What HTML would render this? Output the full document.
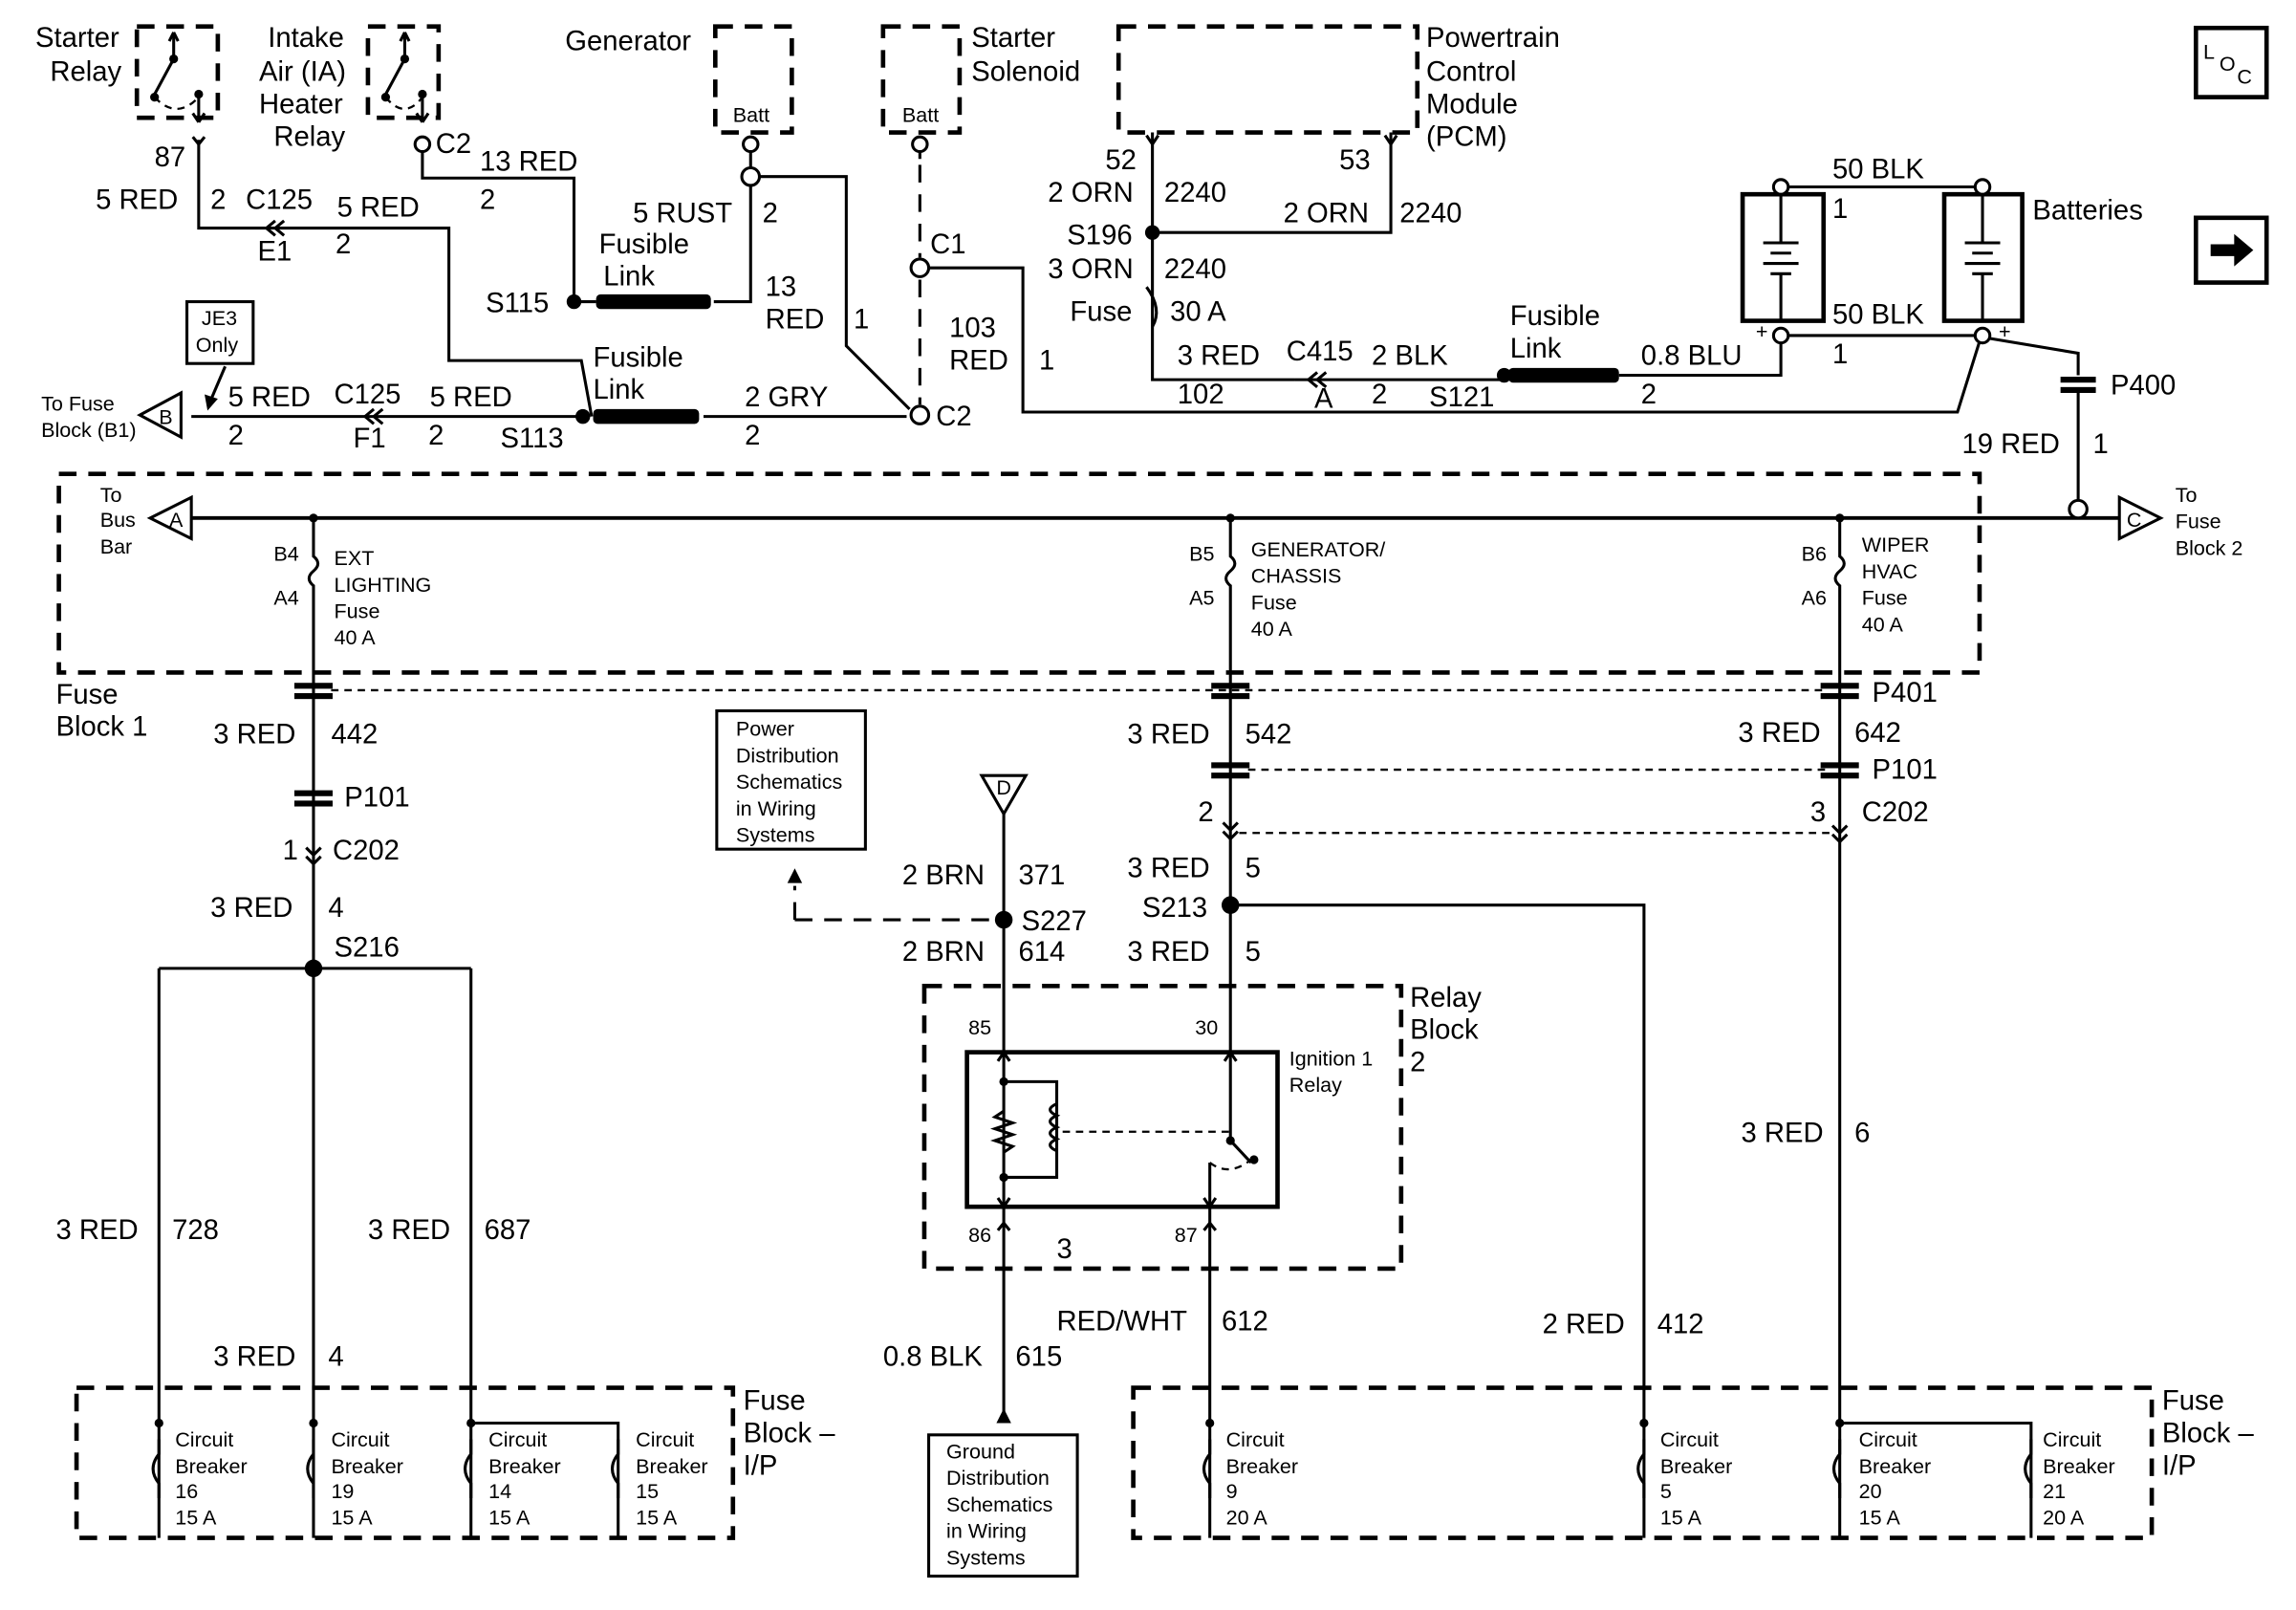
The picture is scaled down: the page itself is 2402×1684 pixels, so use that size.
<!DOCTYPE html>
<html><head><meta charset="utf-8"><style>
html,body{margin:0;padding:0;background:#fff}
svg{display:block}
text{font-family:"Liberation Sans",Arial,sans-serif;fill:#000}
.l{font-size:19px}
.s{font-size:14px}
.w{stroke:#000;stroke-width:2;fill:none}
.d{stroke:#000;stroke-width:3;fill:none;stroke-dasharray:12 8}
.dt{stroke:#000;stroke-width:1.5;fill:none;stroke-dasharray:5 4}
</style></head><body>
<svg width="2402" height="1684" viewBox="0 0 1560 1094" preserveAspectRatio="none" xmlns="http://www.w3.org/2000/svg">
<rect class="d" x="93" y="18" width="55" height="62"/>
<rect class="d" x="250" y="18" width="48" height="62"/>
<rect class="d" x="486" y="18" width="52" height="72"/>
<rect class="d" x="600" y="18" width="52" height="72"/>
<rect class="d" x="760" y="18" width="203" height="72"/>
<g class="w">
<path d="M118 22 V40 L104 66"/><path d="M118 22 l-3 6 M118 22 l3 6"/><path d="M135 65 V83 M135 83 l-4 -6 M135 83 l4 -6"/>
<path d="M275 22 V40 L261 66"/><path d="M275 22 l-3 6 M275 22 l3 6"/><path d="M287 65 V83 M287 83 l-4 -6 M287 83 l4 -6"/>
</g>
<path class="dt" d="M105 66 Q120 82 135 66"/><path class="dt" d="M262 66 Q275 82 287 66"/>
<circle cx="105" cy="66" r="3"/><circle cx="135" cy="64" r="3"/><circle cx="118" cy="40" r="3"/>
<circle cx="262" cy="66" r="3"/><circle cx="287" cy="64" r="3"/><circle cx="275" cy="40" r="3"/>
<text class="l" x="24" y="32">Starter</text><text class="l" x="34" y="55">Relay</text>
<text class="l" x="182" y="32">Intake</text><text class="l" x="176" y="55">Air (IA)</text><text class="l" x="176" y="77">Heater</text><text class="l" x="186" y="99">Relay</text>
<text class="l" x="384" y="34">Generator</text>
<text class="s" x="498" y="83">Batt</text><text class="s" x="613" y="83">Batt</text>
<text class="l" x="660" y="32">Starter</text><text class="l" x="660" y="55">Solenoid</text>
<text class="l" x="969" y="32">Powertrain</text><text class="l" x="969" y="55">Control</text><text class="l" x="969" y="77">Module</text><text class="l" x="969" y="99">(PCM)</text>
<g class="w">
<path d="M135 95 V155 H180"/><path d="M131 93 L135 98 L139 93"/>
<path d="M180 155 H305 V245 H395 L402 283"/>
<path d="M187 150 l-6 5 l6 5 M193 150 l-6 5 l6 5"/>
<path d="M287 103 V121 H390 V205"/>
<path d="M390 205 H405"/><path d="M485 205 H510 V126"/><path d="M510 102 V115"/>
<path d="M516 120 H575 V235 L618 278"/>
<path d="M395 283 H130"/><path d="M478 283 H616"/>
<path d="M254 278 l-6 5 l6 5 M260 278 l-6 5 l6 5"/>
<path d="M153 249 L144 270"/>
<path d="M625 102 V108"/>
<path d="M630 182 H695 V280 H1330 L1345 232"/>
<path d="M783 90 V258 H880"/><path d="M945 90 V158 H783"/>
<path d="M880 258 H1020"/><path d="M1100 255 H1210 V232"/>
<path d="M1215 127 H1342"/><path d="M1215 228 H1342"/>
<path d="M1352 230 L1412 240 V255 M1412 266 V340"/>
</g>
<polygon points="139,268 148,271 141,279"/>
<path class="w" d="M779 92 L783 98 L787 92 M941 92 L945 98 L949 92"/>
<path class="w" d="M895 253 l-6 5 l6 5 M901 253 l-6 5 l6 5"/>
<path d="M779 195 Q790 210 783 222" class="w"/>
<path class="d" d="M625 112 V175 M625 190 V275" style="stroke-width:2"/>
<circle cx="287" cy="98" r="5" fill="#fff" stroke="#000" stroke-width="2"/>
<circle cx="510" cy="98" r="5" fill="#fff" stroke="#000" stroke-width="2"/>
<circle cx="510" cy="120" r="6" fill="#fff" stroke="#000" stroke-width="2"/>
<circle cx="625" cy="98" r="5" fill="#fff" stroke="#000" stroke-width="2"/>
<circle cx="625" cy="182" r="6" fill="#fff" stroke="#000" stroke-width="2"/>
<circle cx="625" cy="282" r="6" fill="#fff" stroke="#000" stroke-width="2"/>
<circle cx="390" cy="205" r="5"/><circle cx="396" cy="283" r="5"/>
<circle cx="783" cy="158" r="5"/><circle cx="1022" cy="255" r="5"/>
<rect x="405" y="200" width="78" height="10" rx="3"/><rect x="403" y="278" width="72" height="10" rx="3"/><rect x="1025" y="250" width="75" height="10" rx="3"/>
<text class="l" x="65" y="142">5 RED</text><text class="l" x="143" y="142">2</text><text class="l" x="167" y="142">C125</text><text class="l" x="229" y="147">5 RED</text>
<text class="l" x="105" y="113">87</text><text class="l" x="175" y="177">E1</text><text class="l" x="228" y="172">2</text>
<text class="l" x="296" y="104">C2</text><text class="l" x="326" y="116">13 RED</text><text class="l" x="326" y="142">2</text>
<text class="l" x="430" y="151">5 RUST</text><text class="l" x="518" y="151">2</text><text class="l" x="407" y="172">Fusible</text><text class="l" x="410" y="194">Link</text>
<text class="l" x="330" y="212">S115</text><text class="l" x="520" y="201">13</text><text class="l" x="520" y="223">RED</text><text class="l" x="580" y="223">1</text>
<rect x="127" y="205" width="45" height="42" fill="none" stroke="#000" stroke-width="2"/>
<text class="s" x="137" y="221">JE3</text><text class="s" x="133" y="239">Only</text>
<text class="l" x="403" y="249">Fusible</text><text class="l" x="403" y="271">Link</text>
<text class="l" x="155" y="276">5 RED</text><text class="l" x="227" y="274">C125</text><text class="l" x="292" y="276">5 RED</text><text class="l" x="506" y="276">2 GRY</text>
<text class="l" x="155" y="302">2</text><text class="l" x="240" y="304">F1</text><text class="l" x="291" y="302">2</text><text class="l" x="340" y="304">S113</text><text class="l" x="506" y="302">2</text>
<polygon points="95,282 123,267 123,297" fill="#fff" stroke="#000" stroke-width="2"/><text class="s" x="108" y="288">B</text>
<text class="s" x="28" y="279">To Fuse</text><text class="s" x="28" y="297">Block (B1)</text>
<text class="l" x="632" y="172">C1</text><text class="l" x="636" y="289">C2</text>
<text class="l" x="645" y="229">103</text><text class="l" x="645" y="251">RED</text><text class="l" x="706" y="251">1</text>
<text class="l" x="751" y="115">52</text><text class="l" x="910" y="115">53</text>
<text class="l" x="712" y="137">2 ORN</text><text class="l" x="791" y="137">2240</text><text class="l" x="872" y="151">2 ORN</text><text class="l" x="951" y="151">2240</text>
<text class="l" x="725" y="166">S196</text><text class="l" x="712" y="189">3 ORN</text><text class="l" x="791" y="189">2240</text>
<text class="l" x="727" y="218">Fuse</text><text class="l" x="795" y="218">30 A</text>
<text class="l" x="800" y="248">3 RED</text><text class="l" x="874" y="245">C415</text><text class="l" x="932" y="248">2 BLK</text>
<text class="l" x="800" y="274">102</text><text class="l" x="893" y="277">A</text><text class="l" x="932" y="274">2</text><text class="l" x="971" y="276">S121</text>
<text class="l" x="1026" y="221">Fusible</text><text class="l" x="1026" y="243">Link</text>
<text class="l" x="1115" y="248">0.8 BLU</text><text class="l" x="1115" y="274">2</text>
<rect x="1184" y="132" width="55" height="86" fill="none" stroke="#000" stroke-width="3"/>
<rect x="1321" y="132" width="53" height="86" fill="none" stroke="#000" stroke-width="3"/>
<g class="w"><path d="M1210 132 V165 M1198 165 H1222 M1203 172 H1217 M1198 179 H1222 M1203 186 H1217 M1210 186 V218"/>
<path d="M1347 132 V165 M1335 165 H1359 M1340 172 H1354 M1335 179 H1359 M1340 186 H1354 M1347 186 V218"/></g>
<circle cx="1210" cy="127" r="5" fill="#fff" stroke="#000" stroke-width="2"/><circle cx="1347" cy="127" r="5" fill="#fff" stroke="#000" stroke-width="2"/>
<circle cx="1210" cy="228" r="5" fill="#fff" stroke="#000" stroke-width="2"/><circle cx="1347" cy="228" r="5" fill="#fff" stroke="#000" stroke-width="2"/>
<text class="l" x="1245" y="121">50 BLK</text><text class="l" x="1245" y="148">1</text><text class="l" x="1381" y="149">Batteries</text>
<text class="l" x="1245" y="220">50 BLK</text><text class="l" x="1245" y="247">1</text><text class="s" x="1193" y="230">+</text><text class="s" x="1358" y="230">+</text>
<rect x="1400" y="256" width="24" height="4"/><rect x="1400" y="263" width="24" height="4"/>
<text class="l" x="1434" y="268">P400</text><text class="l" x="1333" y="308">19 RED</text><text class="l" x="1422" y="308">1</text>
<rect x="1492" y="19" width="48" height="47" fill="none" stroke="#000" stroke-width="3"/>
<text class="s" x="1497" y="40">L</text><text class="s" x="1508" y="48">O</text><text class="s" x="1520" y="57">C</text>
<rect x="1492" y="148" width="48" height="44" fill="none" stroke="#000" stroke-width="3"/>
<polygon points="1502,166 1518,166 1518,159 1531,170 1518,181 1518,174 1502,174"/>
<rect class="d" x="40" y="322" width="1305" height="135"/>
<path class="w" d="M130 352 H1440" style="stroke-width:2.5"/>
<polygon points="102,352 130,338 130,366" fill="#fff" stroke="#000" stroke-width="2"/><text class="s" x="115" y="358">A</text>
<polygon points="1468,352 1440,338 1440,366" fill="#fff" stroke="#000" stroke-width="2"/><text class="s" x="1445" y="358">C</text>
<circle cx="1412" cy="346" r="6" fill="#fff" stroke="#000" stroke-width="2"/>
<text class="s" x="68" y="341">To</text><text class="s" x="68" y="358">Bus</text><text class="s" x="68" y="376">Bar</text>
<text class="s" x="1478" y="341">To</text><text class="s" x="1478" y="359">Fuse</text><text class="s" x="1478" y="377">Block 2</text>
<g class="w">
<path d="M213 352 V378 q6 5 0 10 q-6 5 0 10 V1045"/>
<path d="M836 352 V378 q6 5 0 10 q-6 5 0 10 V715"/>
<path d="M1250 352 V378 q6 5 0 10 q-6 5 0 10 V1045"/>
<path d="M108 658 H320 M108 658 V1045 M320 658 V1045 M320 967 H420 V1045"/>
<path d="M836 615 H1117 V1045"/>
<path d="M1250 967 H1380 V1045"/>
<path d="M682 545 V715 M682 820 V965"/>
<path d="M822 820 V1045"/>
</g>
<circle cx="213" cy="352" r="3"/><circle cx="836" cy="352" r="3"/><circle cx="1250" cy="352" r="3"/>
<text class="s" x="186" y="381">B4</text><text class="s" x="186" y="411">A4</text>
<text class="s" x="227" y="384">EXT</text><text class="s" x="227" y="402">LIGHTING</text><text class="s" x="227" y="420">Fuse</text><text class="s" x="227" y="438">40 A</text>
<text class="s" x="808" y="381">B5</text><text class="s" x="808" y="411">A5</text>
<text class="s" x="850" y="378">GENERATOR/</text><text class="s" x="850" y="396">CHASSIS</text><text class="s" x="850" y="414">Fuse</text><text class="s" x="850" y="432">40 A</text>
<text class="s" x="1224" y="381">B6</text><text class="s" x="1224" y="411">A6</text>
<text class="s" x="1265" y="375">WIPER</text><text class="s" x="1265" y="393">HVAC</text><text class="s" x="1265" y="411">Fuse</text><text class="s" x="1265" y="429">40 A</text>
<text class="l" x="38" y="478">Fuse</text><text class="l" x="38" y="500">Block 1</text>
<path class="dt" d="M225 469 H1240 M848 523 H1240 M842 566 H1245"/>
<g>
<rect x="200" y="464" width="26" height="4"/><rect x="200" y="471" width="26" height="4"/>
<rect x="823" y="464" width="26" height="4"/><rect x="823" y="471" width="26" height="4"/>
<rect x="1237" y="464" width="26" height="4"/><rect x="1237" y="471" width="26" height="4"/>
<rect x="200" y="537" width="26" height="4"/><rect x="200" y="544" width="26" height="4"/>
<rect x="823" y="518" width="26" height="4"/><rect x="823" y="525" width="26" height="4"/>
<rect x="1237" y="518" width="26" height="4"/><rect x="1237" y="525" width="26" height="4"/>
</g>
<path class="w" d="M208 576 l5 5 l5 -5 M208 582 l5 5 l5 -5 M831 559 l5 5 l5 -5 M831 565 l5 5 l5 -5 M1245 561 l5 5 l5 -5 M1245 567 l5 5 l5 -5"/>
<circle cx="213" cy="658" r="6"/><circle cx="836" cy="615" r="6"/><circle cx="682" cy="625" r="6"/>
<text class="l" x="1272" y="477">P401</text>
<text class="l" x="145" y="505">3 RED</text><text class="l" x="225" y="505">442</text>
<text class="l" x="766" y="505">3 RED</text><text class="l" x="846" y="505">542</text>
<text class="l" x="1181" y="504">3 RED</text><text class="l" x="1260" y="504">642</text>
<text class="l" x="234" y="548">P101</text><text class="l" x="1272" y="529">P101</text>
<text class="l" x="192" y="584">1</text><text class="l" x="226" y="584">C202</text>
<text class="l" x="814" y="558">2</text><text class="l" x="1230" y="558">3</text><text class="l" x="1265" y="558">C202</text>
<text class="l" x="143" y="623">3 RED</text><text class="l" x="223" y="623">4</text><text class="l" x="227" y="650">S216</text>
<text class="l" x="766" y="596">3 RED</text><text class="l" x="846" y="596">5</text><text class="l" x="776" y="623">S213</text>
<text class="l" x="766" y="653">3 RED</text><text class="l" x="846" y="653">5</text>
<text class="l" x="1183" y="776">3 RED</text><text class="l" x="1260" y="776">6</text>
<rect x="487" y="483" width="101" height="94" fill="none" stroke="#000" stroke-width="2"/>
<text class="s" x="500" y="500">Power</text><text class="s" x="500" y="518">Distribution</text><text class="s" x="500" y="536">Schematics</text><text class="s" x="500" y="554">in Wiring</text><text class="s" x="500" y="572">Systems</text>
<path class="d" d="M540 625 H676 M540 625 V602" style="stroke-width:2"/>
<polygon points="535,600 540,590 545,600"/>
<polygon points="667,527 697,527 682,553" fill="#fff" stroke="#000" stroke-width="2"/><text class="s" x="677" y="540">D</text>
<text class="l" x="613" y="601">2 BRN</text><text class="l" x="692" y="601">371</text><text class="l" x="694" y="632">S227</text>
<text class="l" x="613" y="653">2 BRN</text><text class="l" x="692" y="653">614</text>
<rect class="d" x="628" y="670" width="324" height="192"/>
<rect x="657" y="715" width="211" height="105" fill="none" stroke="#000" stroke-width="3"/>
<text class="l" x="958" y="684">Relay</text><text class="l" x="958" y="706">Block</text><text class="l" x="958" y="728">2</text>
<text class="s" x="658" y="703">85</text><text class="s" x="812" y="703">30</text><text class="s" x="658" y="844">86</text><text class="s" x="798" y="844">87</text>
<text class="s" x="876" y="724">Ignition 1</text><text class="s" x="876" y="742">Relay</text>
<g class="w">
<path d="M682 715 V820 M682 735 H718 V800 H682"/>
<path d="M682 755 l-6 4 l12 4 l-12 4 l12 4 l-12 4 l12 4 l-6 4"/>
<path d="M718 750 q-9 4 0 8 q-9 4 0 8 q-9 4 0 8 q-9 4 0 8"/>
<path d="M836 715 V775 L850 790"/>
<path d="M822 820 V790"/>
<path d="M678 721 l4 -6 l4 6 M678 814 l4 6 l4 -6 M832 721 l4 -6 l4 6 M818 814 l4 6 l4 -6"/>
<path d="M678 836 l4 -5 l4 5 M818 836 l4 -5 l4 5"/>
</g>
<path class="dt" d="M722 769 H838"/><path class="dt" d="M822 790 Q835 800 850 788"/>
<circle cx="682" cy="735" r="3"/><circle cx="682" cy="800" r="3"/><circle cx="836" cy="775" r="3"/><circle cx="852" cy="788" r="3"/>
<text class="l" x="718" y="855">3</text><text class="l" x="718" y="904">RED/WHT</text><text class="l" x="830" y="904">612</text>
<text class="l" x="600" y="928">0.8 BLK</text><text class="l" x="690" y="928">615</text>
<polygon points="677,967 682,957 687,967"/>
<rect x="631" y="975" width="101" height="96" fill="none" stroke="#000" stroke-width="2"/>
<text class="s" x="643" y="991">Ground</text><text class="s" x="643" y="1009">Distribution</text><text class="s" x="643" y="1027">Schematics</text><text class="s" x="643" y="1045">in Wiring</text><text class="s" x="643" y="1063">Systems</text>
<text class="l" x="1048" y="906">2 RED</text><text class="l" x="1126" y="906">412</text>
<text class="l" x="38" y="842">3 RED</text><text class="l" x="117" y="842">728</text>
<text class="l" x="250" y="842">3 RED</text><text class="l" x="329" y="842">687</text>
<text class="l" x="145" y="928">3 RED</text><text class="l" x="223" y="928">4</text>
<rect class="d" x="52" y="943" width="446" height="102"/>
<rect class="d" x="770" y="943" width="692" height="102"/>
<text class="l" x="505" y="958">Fuse</text><text class="l" x="505" y="980">Block –</text><text class="l" x="505" y="1002">I/P</text>
<text class="l" x="1469" y="958">Fuse</text><text class="l" x="1469" y="980">Block –</text><text class="l" x="1469" y="1002">I/P</text>
<g class="w">
<path d="M108 978 V988 q-8 10 0 20 V1018"/><path d="M213 978 V988 q-8 10 0 20 V1018"/><path d="M320 978 V988 q-8 10 0 20 V1018"/><path d="M420 978 V988 q-8 10 0 20 V1018"/>
<path d="M822 978 V988 q-8 10 0 20 V1018"/><path d="M1117 978 V988 q-8 10 0 20 V1018"/><path d="M1250 978 V988 q-8 10 0 20 V1018"/><path d="M1380 978 V988 q-8 10 0 20 V1018"/>
</g>
<g>
<circle cx="108" cy="967" r="3"/><circle cx="213" cy="967" r="3"/><circle cx="320" cy="967" r="3"/><circle cx="822" cy="967" r="3"/><circle cx="1117" cy="967" r="3"/><circle cx="1250" cy="967" r="3"/>
</g>
<text class="s" x="119" y="983">Circuit</text><text class="s" x="119" y="1001">Breaker</text><text class="s" x="119" y="1018">16</text><text class="s" x="119" y="1036">15 A</text>
<text class="s" x="225" y="983">Circuit</text><text class="s" x="225" y="1001">Breaker</text><text class="s" x="225" y="1018">19</text><text class="s" x="225" y="1036">15 A</text>
<text class="s" x="332" y="983">Circuit</text><text class="s" x="332" y="1001">Breaker</text><text class="s" x="332" y="1018">14</text><text class="s" x="332" y="1036">15 A</text>
<text class="s" x="432" y="983">Circuit</text><text class="s" x="432" y="1001">Breaker</text><text class="s" x="432" y="1018">15</text><text class="s" x="432" y="1036">15 A</text>
<text class="s" x="833" y="983">Circuit</text><text class="s" x="833" y="1001">Breaker</text><text class="s" x="833" y="1018">9</text><text class="s" x="833" y="1036">20 A</text>
<text class="s" x="1128" y="983">Circuit</text><text class="s" x="1128" y="1001">Breaker</text><text class="s" x="1128" y="1018">5</text><text class="s" x="1128" y="1036">15 A</text>
<text class="s" x="1263" y="983">Circuit</text><text class="s" x="1263" y="1001">Breaker</text><text class="s" x="1263" y="1018">20</text><text class="s" x="1263" y="1036">15 A</text>
<text class="s" x="1388" y="983">Circuit</text><text class="s" x="1388" y="1001">Breaker</text><text class="s" x="1388" y="1018">21</text><text class="s" x="1388" y="1036">20 A</text>
</svg>
</body></html>
